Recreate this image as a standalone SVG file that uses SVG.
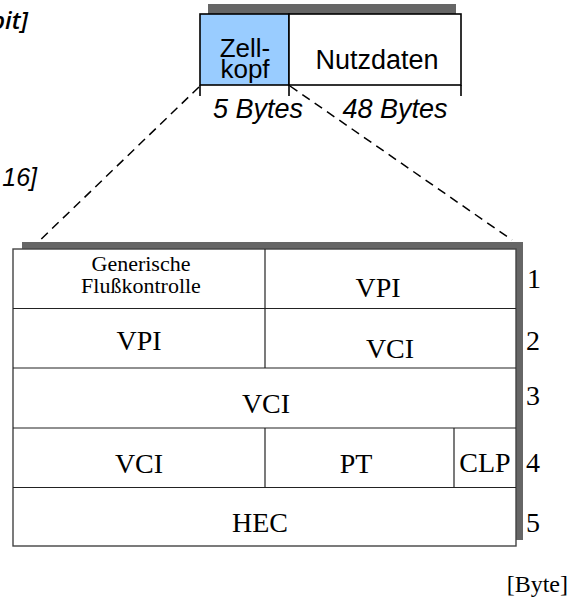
<svg xmlns="http://www.w3.org/2000/svg" width="579" height="599" viewBox="0 0 579 599">
<style>
.sans{font-family:"Liberation Sans",Arial,sans-serif;fill:#000}
.it{font-style:italic}
.serif{font-family:"Liberation Serif","Times New Roman",serif;fill:#000}
.big{font-size:27px}
.cell{font-size:28px}
.num{font-size:28px}
.shadow{fill:#666}
.box{fill:#fff;stroke:#000;stroke-width:1.6}
.tline{stroke:#222;stroke-width:1.2;fill:none}
.dash{stroke:#000;stroke-width:1.5;stroke-dasharray:9,6;fill:none}
.tick{stroke:#000;stroke-width:1.6}
</style>
<rect width="579" height="599" fill="#fff"/>
<g id="cut-labels">
<text x="28" y="29" font-family="'Open Sans','Liberation Sans',sans-serif" font-style="italic" font-weight="600" font-size="24" text-anchor="end">bit]</text>
<text x="37" y="186" class="sans it" font-size="25" text-anchor="end">16]</text>
</g>
<g id="cell-overview">
<rect class="shadow" x="208" y="4" width="248" height="12"/>
<g id="zellkopf">
<rect x="200" y="14" width="89" height="71" fill="#99ccff" stroke="#000" stroke-width="1.6"/>
<text class="sans" font-size="26" x="245" y="57" text-anchor="middle">Zell-</text>
<text class="sans" font-size="26" x="245" y="78" text-anchor="middle">kopf</text>
</g>
<g id="nutzdaten">
<rect class="box" x="289" y="14" width="172" height="71"/>
<text class="sans big" x="377" y="69" text-anchor="middle">Nutzdaten</text>
</g>
<g id="size-ticks">
<line class="tick" x1="200" y1="85" x2="200" y2="96"/>
<line class="tick" x1="289" y1="85" x2="289" y2="96"/>
<line class="tick" x1="461" y1="85" x2="461" y2="96"/>
<text class="sans it big" x="258" y="118" text-anchor="middle">5 Bytes</text>
<text class="sans it big" x="395" y="118" text-anchor="middle">48 Bytes</text>
</g>
</g>
<g id="connectors">
<line class="dash" x1="199" y1="87" x2="33" y2="247"/>
<line class="dash" x1="290" y1="86" x2="512" y2="240"/>
</g>
<g id="header-table">
<rect class="shadow" x="22" y="242" width="501" height="298"/>
<rect x="13" y="249" width="503" height="297" fill="#fff" stroke="#444" stroke-width="1.4"/>
<line class="tline" x1="13" y1="308.5" x2="516" y2="308.5"/>
<line class="tline" x1="13" y1="368" x2="516" y2="368"/>
<line class="tline" x1="13" y1="428" x2="516" y2="428"/>
<line class="tline" x1="13" y1="487.5" x2="516" y2="487.5"/>
<line class="tline" x1="265" y1="249" x2="265" y2="368"/>
<line class="tline" x1="265" y1="428" x2="265" y2="487.5"/>
<line class="tline" x1="454" y1="428" x2="454" y2="487.5"/>
<g id="row1">
<text class="serif" font-size="22" x="141" y="271" text-anchor="middle">Generische</text>
<text class="serif" font-size="22" x="141" y="293" text-anchor="middle">Flußkontrolle</text>
<text class="serif cell" x="378" y="297" text-anchor="middle">VPI</text>
</g>
<g id="row2">
<text class="serif cell" x="139" y="350" text-anchor="middle">VPI</text>
<text class="serif cell" x="390" y="358" text-anchor="middle">VCI</text>
</g>
<g id="row3">
<text class="serif cell" x="266" y="413" text-anchor="middle">VCI</text>
</g>
<g id="row4">
<text class="serif cell" x="139" y="473" text-anchor="middle">VCI</text>
<text class="serif cell" x="356" y="473" text-anchor="middle">PT</text>
<text class="serif cell" x="485" y="472" text-anchor="middle">CLP</text>
</g>
<g id="row5">
<text class="serif cell" x="260" y="532" text-anchor="middle">HEC</text>
</g>
</g>
<g id="byte-numbers">
<text class="serif num" x="527" y="288">1</text>
<text class="serif num" x="526" y="350">2</text>
<text class="serif num" x="526" y="405">3</text>
<text class="serif num" x="526" y="472">4</text>
<text class="serif num" x="526" y="532">5</text>
<text class="serif" font-size="24" x="568" y="592" text-anchor="end">[Byte]</text>
</g>
</svg>
